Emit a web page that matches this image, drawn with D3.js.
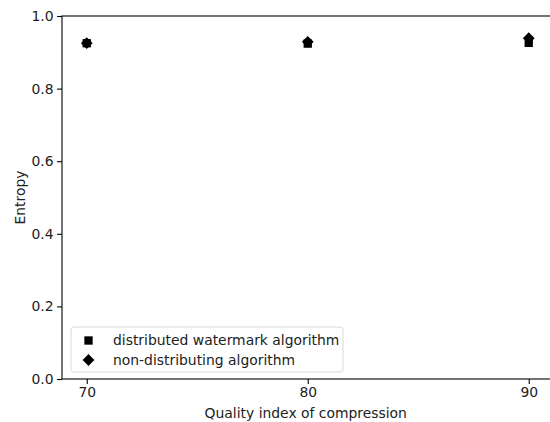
<!DOCTYPE html>
<html>
<head>
<meta charset="utf-8">
<script src="https://cdn.jsdelivr.net/npm/d3@7"></script>
<style>
  html, body { margin: 0; padding: 0; background: #fff; }
  svg { display: block; font-family: "DejaVu Sans", sans-serif; }
</style>
</head>
<body>
<svg id="chart" width="550" height="422"></svg>
<script>
// Entropy versus JPEG quality index for the two embedding schemes
const qualities = [70, 80, 90];
const distributedEntropy = [0.925, 0.924, 0.926];
const nonDistributingEntropy = [0.925, 0.929, 0.939];
const xTicks = [70, 80, 90];
const yTicks = [0.0, 0.2, 0.4, 0.6, 0.8, 1.0];
const seriesNames = ["distributed watermark algorithm", "non-distributing algorithm"];

const svg = d3.select("#chart");
const plot = { left: 62, top: 16, right: 553.5, bottom: 379 };

const x = d3.scaleLinear().domain([68.88, 91.12]).range([plot.left, plot.right]);
const y = d3.scaleLinear().domain([0, 1]).range([plot.bottom, plot.top]);

const fontPx = 13.9;

// axes
const xAxis = svg.append("g")
  .attr("transform", `translate(0,${plot.bottom})`)
  .call(d3.axisBottom(x).tickValues(xTicks).tickFormat(d3.format("d")).tickSize(4.9).tickPadding(3.5));
const yAxis = svg.append("g")
  .attr("transform", `translate(${plot.left},0)`)
  .call(d3.axisLeft(y).tickValues(yTicks).tickFormat(d3.format(".1f")).tickSize(4.9).tickPadding(3.5));

[xAxis, yAxis].forEach(g => {
  g.selectAll("path.domain").remove();
  g.selectAll("line").attr("stroke", "#000").attr("stroke-width", 1.1);
  g.selectAll("text").attr("fill", "#222").style("font-size", fontPx + "px")
    .style("font-family", "'DejaVu Sans', sans-serif");
});

// frame (spines)
svg.append("rect")
  .attr("x", plot.left).attr("y", plot.top)
  .attr("width", plot.right - plot.left).attr("height", plot.bottom - plot.top)
  .attr("fill", "none").attr("stroke", "#000").attr("stroke-width", 1.1);

// axis titles
svg.append("text")
  .attr("x", (plot.left + plot.right) / 2 - 2).attr("y", 418)
  .attr("text-anchor", "middle").attr("fill", "#222")
  .style("font-size", fontPx + "px")
  .text("Quality index of compression");
svg.append("text")
  .attr("transform", `translate(25,${(plot.top + plot.bottom) / 2}) rotate(-90)`)
  .attr("text-anchor", "middle").attr("fill", "#222")
  .style("font-size", fontPx + "px")
  .text("Entropy");

// marker shapes: square side 8.33px, diamond = same square rotated 45deg
const sq = 8.33;
const squarePath = d3.symbol().type(d3.symbolSquare).size(sq * sq);
const diamondPath = () => {
  const h = sq * Math.SQRT2 / 2;
  return `M0,${-h}L${h},0L0,${h}L${-h},0Z`;
};

svg.append("g").selectAll("path")
  .data(qualities.map((q, i) => ({ q, v: distributedEntropy[i] })))
  .join("path")
  .attr("d", squarePath())
  .attr("transform", d => `translate(${x(d.q)},${y(d.v)})`)
  .attr("fill", "#000");

svg.append("g").selectAll("path")
  .data(qualities.map((q, i) => ({ q, v: nonDistributingEntropy[i] })))
  .join("path")
  .attr("d", diamondPath())
  .attr("transform", d => `translate(${x(d.q)},${y(d.v)})`)
  .attr("fill", "#000");

// legend
const legend = svg.append("g");
legend.append("rect")
  .attr("x", 71).attr("y", 327).attr("width", 272).attr("height", 45)
  .attr("rx", 3).attr("ry", 3)
  .attr("fill", "#fff").attr("fill-opacity", 0.8)
  .attr("stroke", "#d9d9d9").attr("stroke-width", 1);

const legendRows = [
  { name: seriesNames[0], d: squarePath(), cy: 340.5 },
  { name: seriesNames[1], d: diamondPath(), cy: 360 }
];
legendRows.forEach(r => {
  legend.append("path").attr("d", r.d)
    .attr("transform", `translate(88.5,${r.cy})`).attr("fill", "#000");
  legend.append("text")
    .attr("x", 113).attr("y", r.cy).attr("dy", "0.35em")
    .attr("fill", "#222").style("font-size", fontPx + "px")
    .text(r.name);
});
</script>
</body>
</html>
